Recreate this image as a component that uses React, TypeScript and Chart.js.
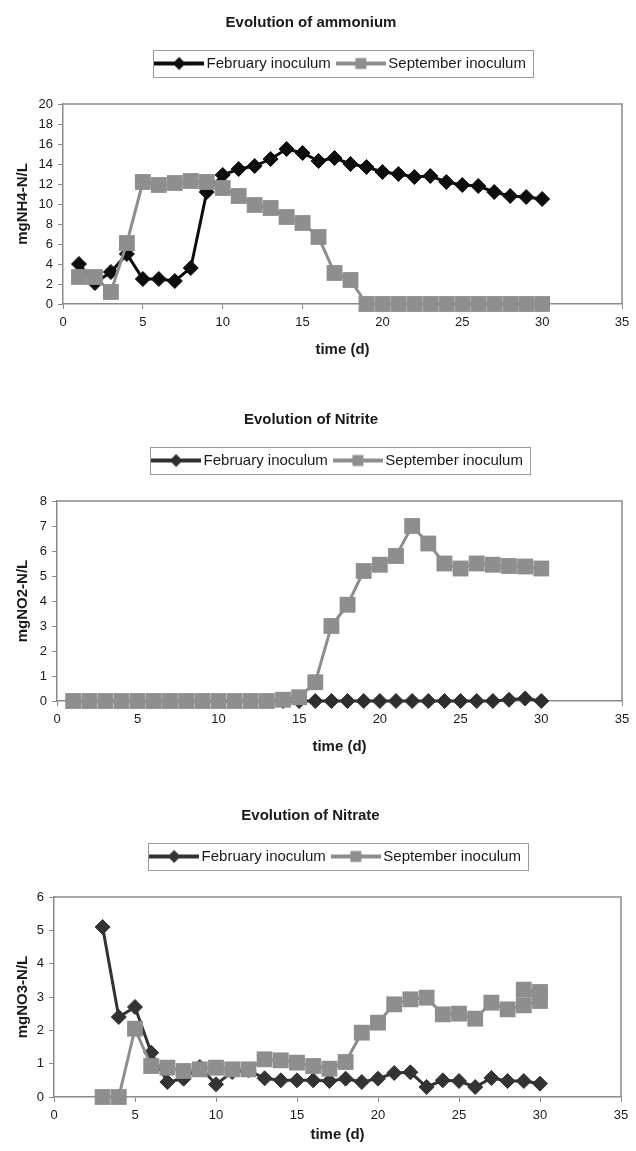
import React, { useEffect, useRef } from 'react';
import { Chart, registerables } from 'chart.js';

Chart.register(...registerables);

const FONT = "'Liberation Sans', Arial, Helvetica, sans-serif";

// ---------- data ----------
const seriesNames = ['February inoculum', 'September inoculum'];
const chartTitles = ['Evolution of ammonium', 'Evolution of Nitrite', 'Evolution of Nitrate'];
const yTitles = ['mgNH4-N/L', 'mgNO2-N/L', 'mgNO3-N/L'];
const xTitle = 'time (d)';

const ammoniumDays = [1, 2, 3, 4, 5, 6, 7, 8, 9, 10, 11, 12, 13, 14, 15, 16, 17, 18, 19, 20, 21, 22, 23, 24, 25, 26, 27, 28, 29, 30];
const ammoniumFeb = [4.0, 2.1, 3.2, 5.0, 2.5, 2.5, 2.3, 3.6, 11.2, 12.9, 13.5, 13.8, 14.5, 15.5, 15.1, 14.3, 14.6, 14.0, 13.7, 13.2, 13.0, 12.7, 12.8, 12.2, 11.9, 11.8, 11.2, 10.8, 10.7, 10.5];
const ammoniumSep = [2.7, 2.7, 1.2, 6.1, 12.2, 11.9, 12.1, 12.3, 12.2, 11.6, 10.8, 9.9, 9.6, 8.7, 8.1, 6.7, 3.1, 2.4, 0, 0, 0, 0, 0, 0, 0, 0, 0, 0, 0, 0];

const nitriteDays = [1, 2, 3, 4, 5, 6, 7, 8, 9, 10, 11, 12, 13, 14, 15, 16, 17, 18, 19, 20, 21, 22, 23, 24, 25, 26, 27, 28, 29, 30];
const nitriteFeb = [0, 0, 0, 0, 0, 0, 0, 0, 0, 0, 0, 0, 0, 0, 0, 0, 0, 0, 0, 0, 0, 0, 0, 0, 0, 0, 0, 0.05, 0.1, 0];
const nitriteSep = [0, 0, 0, 0, 0, 0, 0, 0, 0, 0, 0, 0, 0, 0.05, 0.15, 0.75, 3.0, 3.85, 5.2, 5.45, 5.8, 7.0, 6.3, 5.5, 5.3, 5.5, 5.45, 5.4, 5.38, 5.3];

const nitrateFebDays = [3, 4, 5, 6, 7, 8, 9, 10, 11, 12, 13, 14, 15, 16, 17, 18, 19, 20, 21, 22, 23, 24, 25, 26, 27, 28, 29, 30];
const nitrateFeb = [5.1, 2.4, 2.7, 1.33, 0.45, 0.55, 0.9, 0.38, 0.75, 0.8, 0.56, 0.5, 0.5, 0.5, 0.48, 0.55, 0.45, 0.55, 0.72, 0.74, 0.3, 0.5, 0.48, 0.3, 0.57, 0.48, 0.48, 0.4];
const nitrateSepDays = [3, 4, 5, 6, 7, 8, 9, 10, 11, 12, 13, 14, 15, 16, 17, 18, 19, 20, 21, 22, 23, 24, 25, 26, 27, 28, 29, 30, 29, 30];
const nitrateSep = [0, 0, 2.05, 0.93, 0.88, 0.78, 0.83, 0.88, 0.83, 0.83, 1.13, 1.1, 1.03, 0.93, 0.85, 1.05, 1.93, 2.23, 2.78, 2.93, 2.98, 2.48, 2.5, 2.35, 2.83, 2.63, 2.75, 2.88, 3.22, 3.15];

const yMaxes = [20, 8, 6];
const ySteps = [2, 1, 1];
const xMin = 0;
const xMax = 35;
const xStep = 5;

// ---------- styles ----------
const SEP_COLOR = '#8e8e8e';
const AXIS_COLOR = '#8a8a8a';
const TEXT_COLOR = '#1a1a1a';

function pts(xs: number[], ys: number[]) {
  return xs.map((x, i) => ({ x, y: ys[i] }));
}

function makeLegendImage(kind: 'diamond' | 'square', color: string): HTMLCanvasElement {
  const w = 50;
  const h = 16;
  const c = document.createElement('canvas');
  c.width = w;
  c.height = h;
  const ctx = c.getContext('2d')!;
  ctx.strokeStyle = color;
  ctx.fillStyle = color;
  ctx.lineWidth = 4;
  ctx.beginPath();
  ctx.moveTo(0, h / 2);
  ctx.lineTo(w, h / 2);
  ctx.stroke();
  const cx = w / 2;
  const cy = h / 2;
  ctx.beginPath();
  if (kind === 'diamond') {
    ctx.moveTo(cx, cy - 6.5);
    ctx.lineTo(cx + 6.5, cy);
    ctx.lineTo(cx, cy + 6.5);
    ctx.lineTo(cx - 6.5, cy);
    ctx.closePath();
  } else {
    ctx.rect(cx - 5.5, cy - 5.5, 11, 11);
  }
  ctx.fill();
  return c;
}

const framePlugin = {
  id: 'frame',
  beforeDatasetsDraw(chart: any) {
    const { ctx, chartArea } = chart;
    ctx.save();
    ctx.strokeStyle = AXIS_COLOR;
    ctx.lineWidth = 1.5;
    ctx.beginPath();
    ctx.moveTo(chartArea.left, chartArea.top);
    ctx.lineTo(chartArea.right, chartArea.top);
    ctx.lineTo(chartArea.right, chartArea.bottom);
    ctx.stroke();
    ctx.restore();
  },
};

const legendBoxPlugin = {
  id: 'legendBox',
  afterDraw(chart: any) {
    const lg = chart.legend;
    if (!lg || !lg.legendHitBoxes || !lg.legendHitBoxes.length) return;
    const boxes = lg.legendHitBoxes;
    const first = boxes[0];
    const last = boxes[boxes.length - 1];
    const left = first.left - 6;
    const right = last.left + last.width + 7;
    const cy = first.top + first.height / 2;
    const { ctx } = chart;
    ctx.save();
    ctx.strokeStyle = '#9a9a9a';
    ctx.lineWidth = 1;
    ctx.strokeRect(Math.round(left) + 0.5, Math.round(cy - 13.5) + 0.5, Math.round(right - left), 27);
    ctx.restore();
  },
};

interface PanelProps {
  idx: number;
  top: number;
  height: number;
  plotLeft: number;
  plotRight: number;
  xTitlePadBottom: number;
  febColor: string;
  feb: { x: number; y: number }[];
  sep: { x: number; y: number }[];
}

function Panel(props: PanelProps) {
  const ref = useRef<HTMLCanvasElement | null>(null);
  const { idx, top, height, plotLeft, plotRight, xTitlePadBottom, febColor, feb, sep } = props;
  const width = 636;

  useEffect(() => {
    if (!ref.current) return;
    const imgs = [makeLegendImage('diamond', febColor), makeLegendImage('square', SEP_COLOR)];
    const xAxisH = height - 304;
    const chart = new Chart(ref.current, {
      type: 'line',
      data: {
        datasets: [
          {
            label: seriesNames[0],
            data: feb,
            borderColor: febColor,
            backgroundColor: febColor,
            borderWidth: 3,
            pointStyle: 'rectRot',
            pointRadius: 7.5,
            pointBorderWidth: 1,
            pointBorderColor: febColor,
            pointBackgroundColor: febColor,
            tension: 0,
            clip: false as any,
            order: 1,
          },
          {
            label: seriesNames[1],
            data: sep,
            borderColor: SEP_COLOR,
            backgroundColor: SEP_COLOR,
            borderWidth: 3,
            pointStyle: 'rect',
            pointRadius: 11.2,
            pointBorderWidth: 0,
            pointBackgroundColor: SEP_COLOR,
            tension: 0,
            clip: false as any,
            order: 0,
          },
        ],
      },
      options: {
        animation: false,
        responsive: false,
        events: [],
        layout: { padding: { left: 0, right: width - plotRight, top: 0, bottom: 0 } },
        plugins: {
          title: {
            display: true,
            text: chartTitles[idx],
            color: TEXT_COLOR,
            font: { family: FONT, size: 15, weight: 'bold', lineHeight: 1.2 },
            padding: { top: 14, bottom: 14 },
          },
          subtitle: {
            display: true,
            text: '',
            position: 'top',
            weight: 500,
            font: { family: FONT, size: 10, lineHeight: 1 },
            padding: { top: 13, bottom: 0 },
          } as any,
          legend: {
            display: true,
            position: 'top',
            fullSize: false,
            onClick: () => {},
            labels: {
              usePointStyle: true,
              pointStyleWidth: 40,
              padding: 10,
              color: TEXT_COLOR,
              font: { family: FONT, size: 15 },
              generateLabels: (c: any) =>
                c.data.datasets.map((ds: any, i: number) => ({
                  text: ds.label,
                  pointStyle: imgs[i],
                  fillStyle: ds.borderColor,
                  strokeStyle: ds.borderColor,
                  lineWidth: 0,
                  hidden: false,
                  datasetIndex: i,
                  fontColor: TEXT_COLOR,
                })),
            },
          },
          tooltip: { enabled: false },
        },
        scales: {
          x: {
            type: 'linear',
            min: xMin,
            max: xMax,
            ticks: { stepSize: xStep, color: TEXT_COLOR, font: { family: FONT, size: 13 }, padding: 6 },
            grid: { drawOnChartArea: false, drawTicks: true, tickLength: 5, color: AXIS_COLOR, lineWidth: 1 },
            border: { color: AXIS_COLOR, width: 1.5 },
            title: {
              display: true,
              text: xTitle,
              color: TEXT_COLOR,
              font: { family: FONT, size: 15, weight: 'bold', lineHeight: 1.2 },
              padding: { top: 0, bottom: xTitlePadBottom },
            },
            afterFit: (s: any) => {
              s.height = xAxisH;
            },
          },
          y: {
            type: 'linear',
            min: 0,
            max: yMaxes[idx],
            ticks: { stepSize: ySteps[idx], color: TEXT_COLOR, font: { family: FONT, size: 13 }, padding: 5 },
            grid: { drawOnChartArea: false, drawTicks: true, tickLength: 5, color: AXIS_COLOR, lineWidth: 1 },
            border: { color: AXIS_COLOR, width: 1.5 },
            title: {
              display: true,
              text: yTitles[idx],
              color: TEXT_COLOR,
              font: { family: FONT, size: 15, weight: 'bold', lineHeight: 1.2 },
              padding: { top: 14, bottom: 0 },
            },
            afterFit: (s: any) => {
              s.width = plotLeft;
            },
          },
        },
      } as any,
      plugins: [framePlugin, legendBoxPlugin],
    });
    return () => chart.destroy();
  }, []);

  return (
    <canvas
      ref={ref}
      width={width}
      height={height}
      style={{ position: 'absolute', left: 0, top, width, height, display: 'block' }}
    />
  );
}

export default function App() {
  return (
    <div
      style={{
        position: 'absolute',
        left: 0,
        top: 0,
        width: 636,
        height: 1151,
        overflow: 'hidden',
        background: '#ffffff',
      }}
    >
      <Panel
        idx={0}
        top={0}
        height={363}
        plotLeft={63}
        plotRight={622}
        xTitlePadBottom={4}
        febColor="#0d0d0d"
        feb={pts(ammoniumDays, ammoniumFeb)}
        sep={pts(ammoniumDays, ammoniumSep)}
      />
      <Panel
        idx={1}
        top={397}
        height={363}
        plotLeft={57}
        plotRight={622}
        xTitlePadBottom={4}
        febColor="#2e2e2e"
        feb={pts(nitriteDays, nitriteFeb)}
        sep={pts(nitriteDays, nitriteSep)}
      />
      <Panel
        idx={2}
        top={793}
        height={358}
        plotLeft={54}
        plotRight={621}
        xTitlePadBottom={7}
        febColor="#333333"
        feb={pts(nitrateFebDays, nitrateFeb)}
        sep={pts(nitrateSepDays, nitrateSep)}
      />
    </div>
  );
}
